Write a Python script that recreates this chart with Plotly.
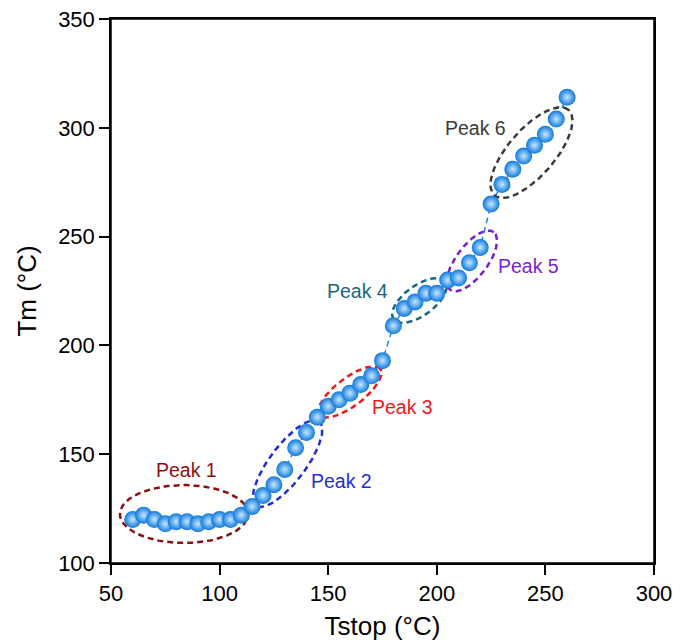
import numpy as np
import plotly.graph_objects as go

tstop = [60, 65, 70, 75, 80, 85, 90, 95, 100, 105, 110, 115, 120, 125, 130, 135, 140, 145,
         150, 155, 160, 165, 170, 175, 180, 185, 190, 195, 200, 205, 210, 215, 220, 225,
         230, 235, 240, 245, 250, 255, 260]
tm = [120, 122, 120, 118, 119, 119, 118, 119, 120, 120, 122, 126, 131, 136, 143, 153, 160, 167,
      172, 175, 178, 182, 186, 193, 209, 217, 220, 224, 224, 230, 231, 238, 245, 265,
      274, 281, 287, 292, 297, 304, 314]

peak_names = ["Peak 1", "Peak 2", "Peak 3", "Peak 4", "Peak 5", "Peak 6"]
peak_colors = ["#8b1010", "#1f2fd6", "#f01818", "#17687a", "#7a1fd0", "#3a3a3a"]
ell_cx = [83.6, 131.3, 160.0, 192.0, 216.2, 243.6]
ell_cy = [122.5, 145.7, 178.6, 220.6, 238.8, 288.6]
ell_a = [29.5, 24.2, 17.5, 14.7, 16.6, 26.0]
ell_b = [13.3, 8.3, 6.5, 6.9, 7.2, 10.7]
ell_ang = [0, 53, 37, 36, 53, 49]
label_x = [84.8, 156.1, 184.0, 163.3, 242.4, 218.0]
label_y = [142.7, 137.5, 171.9, 224.8, 236.7, 300.1]

fig = go.Figure()

t = np.linspace(0, 2 * np.pi, 160)
for i in range(len(peak_names)):
    th = np.deg2rad(ell_ang[i])
    ex = ell_cx[i] + ell_a[i] * np.cos(t) * np.cos(th) - ell_b[i] * np.sin(t) * np.sin(th)
    ey = ell_cy[i] + ell_a[i] * np.cos(t) * np.sin(th) + ell_b[i] * np.sin(t) * np.cos(th)
    fig.add_trace(go.Scatter(x=ex, y=ey, mode="lines",
                             line=dict(color=peak_colors[i], width=2.5, dash="6px,4px"),
                             hoverinfo="skip", showlegend=False))
    fig.add_annotation(x=label_x[i], y=label_y[i], text=peak_names[i], showarrow=False,
                       font=dict(family="Liberation Sans, Arial", size=19.5, color=peak_colors[i]))

fig.add_trace(go.Scatter(
    x=tstop, y=tm, mode="lines+markers",
    line=dict(color="#1e8ae6", width=1.5, dash="6px,4px"),
    marker=dict(size=17, color="#0f78dc", line=dict(width=0),
                gradient=dict(type="radial", color="#c4e8ff")),
    showlegend=False))

# plot frame
fig.add_shape(type="rect", xref="paper", yref="paper", x0=0, y0=0, x1=1, y1=1,
              line=dict(color="black", width=1.5), layer="above")

fig.update_layout(
    width=680, height=633,
    margin=dict(l=103, r=34, t=11, b=78),
    paper_bgcolor="white", plot_bgcolor="white",
    font=dict(family="Liberation Sans, Arial", size=22, color="black"),
    xaxis=dict(range=[50, 300], tickvals=[50, 100, 150, 200, 250, 300], automargin=False,
               ticklabeloverflow="allow",
               showgrid=False, zeroline=False, showline=True, linecolor="black", linewidth=1.5,
               mirror=True, ticks="outside", ticklen=10, tickwidth=1.5, tickcolor="black",
               title=dict(text="Tstop (°C)", font=dict(size=26), standoff=12)),
    yaxis=dict(range=[100, 350], tickvals=[100, 150, 200, 250, 300, 350], automargin=False,
               ticklabeloverflow="allow",
               showgrid=False, zeroline=False, showline=True, linecolor="black", linewidth=1.5,
               mirror=True, ticks="outside", ticklen=10, tickwidth=1.5, tickcolor="black",
               title=dict(text="Tm (°C)", font=dict(size=26), standoff=14)),
)

fig.write_html("out.html")
